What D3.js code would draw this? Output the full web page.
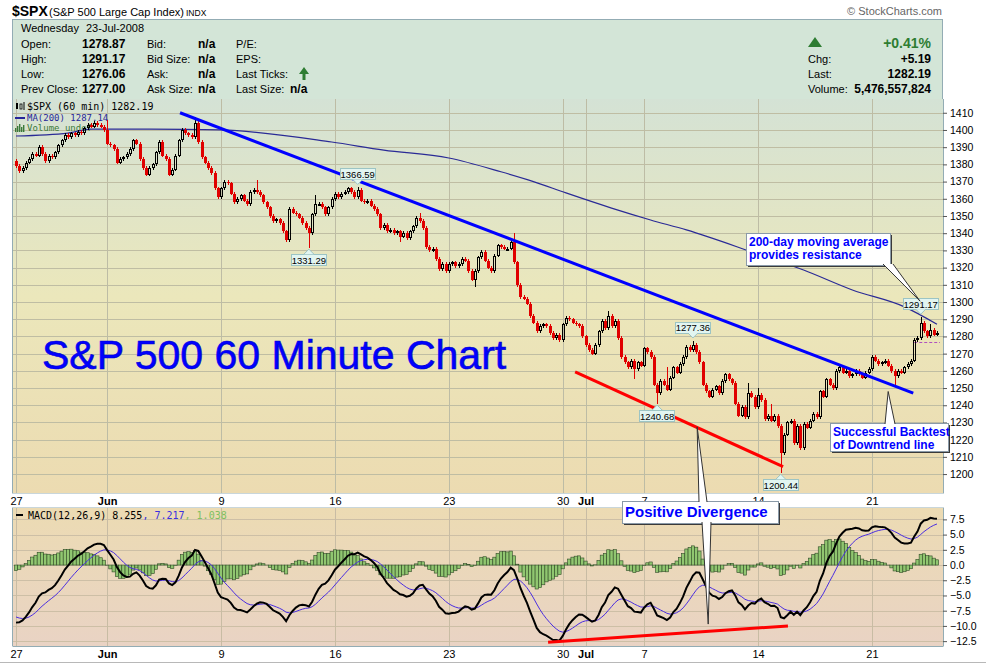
<!DOCTYPE html>
<html>
<head>
<meta charset="utf-8">
<script src="https://cdn.jsdelivr.net/npm/d3@7"></script>
<style>
  body { margin: 0; background: #fff; }
</style>
</head>
<body>
<script>
// ---- data ----
const tickText = ['27', 'Jun', '9', '16', '23', '30', 'Jul', '7', '14', '21'];
const tickDay = [0, 4, 9, 14, 19, 24, 25, 28, 33, 38];
// May 27 .. Jul 23 2008, hourly bars per session (Jul 3 was a half day)
const barsPerDay = [7, 7, 7, 7, 7, 7, 7, 7, 7, 7, 7, 7, 7, 7, 7, 7, 7, 7, 7, 7, 7, 7, 7, 7,
  7, 7, 7, 4, 7, 7, 7, 7, 7, 7, 7, 7, 7, 7, 7, 7, 7];
const firstOpen = 1382;
const closes = [
  1379, 1376, 1378, 1381, 1383, 1386, 1385,
  1390, 1386, 1382, 1385, 1384, 1387, 1391,
  1394, 1397, 1396, 1398, 1397, 1399, 1398,
  1401, 1403, 1402, 1404, 1403, 1402, 1400,
  1392, 1391, 1389, 1381, 1383, 1384, 1386,
  1389, 1394, 1392, 1383, 1378, 1374, 1378,
  1380, 1387, 1393, 1385, 1383, 1374, 1377,
  1385, 1394, 1400, 1398, 1397, 1396, 1404,
  1393, 1384, 1381, 1378, 1375, 1366, 1361,
  1366, 1370, 1369, 1363, 1358, 1360, 1362,
  1359, 1357, 1364, 1365, 1364, 1362, 1358,
  1355, 1350, 1347, 1348, 1346, 1341, 1336,
  1354, 1352, 1351, 1349, 1346, 1343, 1340,
  1351, 1357, 1357, 1355, 1351, 1355, 1360,
  1363, 1361, 1363, 1364, 1366, 1364, 1361,
  1365, 1359, 1358, 1359, 1356, 1354, 1351,
  1343, 1345, 1341, 1342, 1340, 1341, 1338,
  1340, 1337, 1341, 1344, 1349, 1347, 1343,
  1332, 1330, 1331, 1325, 1319, 1322, 1318,
  1322, 1323, 1321, 1322, 1325, 1324, 1318,
  1313, 1318, 1326, 1329, 1324, 1320, 1318,
  1327, 1333, 1332, 1331, 1331, 1335, 1323,
  1310, 1303, 1302, 1299, 1292, 1288, 1283,
  1286, 1287, 1286, 1282, 1279, 1281, 1278,
  1287, 1291, 1290, 1288, 1287, 1286, 1280,
  1275, 1272, 1270, 1275, 1283, 1289, 1285,
  1292, 1286, 1289, 1279, 1268, 1265, 1262,
  1266, 1261, 1265, 1263,
  1273, 1271, 1268, 1252, 1247, 1254, 1252,
  1249, 1256, 1262, 1259, 1264, 1268, 1274,
  1272, 1275, 1271, 1265, 1252, 1248, 1245,
  1249, 1251, 1247, 1254, 1258, 1255, 1253,
  1241, 1234, 1239, 1233, 1247, 1245, 1239,
  1246, 1243, 1232, 1234, 1231, 1234, 1228,
  1212, 1223, 1230, 1231, 1218, 1228, 1215,
  1229, 1227, 1231, 1235, 1233, 1248, 1245,
  1255, 1252, 1250, 1260, 1262, 1259, 1260,
  1257, 1258, 1260, 1258, 1256, 1259, 1261,
  1268, 1266, 1264, 1265, 1266, 1263, 1260,
  1257, 1260, 1259, 1262, 1264, 1266, 1278,
  1279, 1288, 1283, 1280, 1284, 1281, 1282.19
];
// bars with a visibly long wick: [bar, high] / [bar, low]
const highMarks = [[28, 1406], [55, 1407.5], [74, 1371], [92, 1362], [105, 1366.59], [124, 1352],
  [153, 1340], [182, 1295], [200, 1262], [208, 1277.36], [225, 1253], [228, 1250], [232, 1241],
  [278, 1291.17], [281, 1287]];
const lowMarks = [[90, 1331.29], [118, 1335], [141, 1309], [190, 1255], [197, 1240.68],
  [235, 1200.44], [270, 1252]];
const maBar = [0, 16, 23, 41, 63, 97, 113, 133, 149, 159, 169, 183, 195, 206, 227, 242, 257, 273, 283];
const maValue = [1396.5, 1398.2, 1400.5, 1400.5, 1400, 1393, 1388.3, 1383.7, 1375.7, 1370, 1363.4,
  1354.6, 1347.7, 1341.9, 1328.5, 1318.6, 1307, 1297.2, 1287.1];
const macdSeed = [1385, 1394.7, -8.3]; // EMA12, EMA26, signal before the first bar
const priceTicks = d3.range(1200, 1411, 10);
const macdTicks = [-12.5, -10, -7.5, -5, -2.5, 0, 2.5, 5, 7.5];
const peakLabels = [[90, 1331.29, 'low'], [105, 1366.59, 'high'], [197, 1240.68, 'low'],
  [208, 1277.36, 'high'], [235, 1200.44, 'low'], [278, 1291.17, 'high']];
const trendBlue = [[50.4, 1410], [275.7, 1247]];
const trendRed = [[171.8, 1259.4], [235.7, 1204.3]];
const macdRed = [[163.5, -12.7], [237.2, -10]];

const W = 986, H = 664;
const L = 13, R = 943, PT = 99, PB = 493, MT = 508, MB = 646;
const SANS = '"Liberation Sans", Arial, sans-serif';
const MONO = '"DejaVu Sans Mono", monospace';

const svg = d3.select('body').append('svg').attr('width', W).attr('height', H)
  .attr('font-family', SANS);
const defs = svg.append('defs');

function grad(id, stops) {
  const g = defs.append('linearGradient').attr('id', id)
    .attr('x1', 0).attr('x2', 0).attr('y1', 0).attr('y2', 1);
  stops.forEach(([o, c]) => g.append('stop').attr('offset', o).attr('stop-color', c));
}
grad('pbg', [[0, '#d4e2d5'], [0.5, '#ebe7bb'], [1, '#ecdbb1']]);
grad('mbg', [[0, '#ecdbb3'], [1, '#e9d3c4']]);
defs.append('clipPath').attr('id', 'clipP').append('rect')
  .attr('x', L).attr('y', PT).attr('width', R - L).attr('height', PB - PT);
defs.append('clipPath').attr('id', 'clipM').append('rect')
  .attr('x', L).attr('y', MT).attr('width', R - L).attr('height', MB - MT);

// ---- derived series ----
const dayStart = [];
barsPerDay.reduce((s, n) => { dayStart.push(s); return s + n; }, 0);

const bars = closes.map((c, i) => {
  const o = i ? closes[i - 1] : firstOpen;
  return { i, o, c, h: Math.max(o, c) + 1, l: Math.min(o, c) - 1 };
});
highMarks.forEach(([i, v]) => { bars[i].h = v; });
lowMarks.forEach(([i, v]) => { bars[i].l = v; });

let e12 = macdSeed[0], e26 = macdSeed[1], sig = macdSeed[2];
const macd = closes.map((c, i) => {
  e12 += (2 / 13) * (c - e12);
  e26 += (2 / 27) * (c - e26);
  const m = e12 - e26;
  sig += 0.2 * (m - sig);
  return { i, m, s: sig, h: m - sig };
});

const x = d3.scaleLinear().domain([0, closes.length - 1]).range([16, 937]);
const y = d3.scaleLinear().domain([1189, 1418]).range([PB, PT]);
const ym = d3.scaleLinear().domain([-13.3, 9.37]).range([MB, MT]);
const px = v => Math.round(v) + 0.5;

// ---- header ----
svg.append('text').attr('x', 12).attr('y', 16).attr('font-size', 14).attr('font-weight', 'bold').text('$SPX');
svg.append('text').attr('x', 49).attr('y', 16).attr('font-size', 11).text('(S&P 500 Large Cap Index)');
svg.append('text').attr('x', 186).attr('y', 16).attr('font-size', 8.5).text('INDX');
svg.append('text').attr('x', 942).attr('y', 15).attr('text-anchor', 'end').attr('font-size', 11)
  .attr('fill', '#666').text('© StockCharts.com');

svg.append('rect').attr('x', 12.5).attr('y', 19.5).attr('width', 930).attr('height', 80)
  .attr('fill', '#d3e5d7').attr('stroke', '#93acb4');

const hdr = svg.append('g').attr('font-size', 11);
hdr.append('text').attr('x', 21).attr('y', 32).text('Wednesday');
hdr.append('text').attr('x', 86).attr('y', 32).text('23-Jul-2008');
const quoteRows = [
  ['Open:', '1278.87', 'Bid:', 'n/a', 'P/E:'],
  ['High:', '1291.17', 'Bid Size:', 'n/a', 'EPS:'],
  ['Low:', '1276.06', 'Ask:', 'n/a', 'Last Ticks:'],
  ['Prev Close:', '1277.00', 'Ask Size:', 'n/a', 'Last Size:']
];
const colX = [21, 82, 147, 198, 236];
quoteRows.forEach((row, r) => {
  row.forEach((t, k) => {
    hdr.append('text').attr('x', colX[k]).attr('y', 48 + r * 15)
      .attr('font-weight', k % 2 ? 'bold' : null).attr('font-size', k % 2 ? 12 : null).text(t);
  });
});
hdr.append('text').attr('x', 290).attr('y', 93).attr('font-weight', 'bold').attr('font-size', 12).text('n/a');
hdr.append('path').attr('d', 'M299,74 L304,67 L309,74 L305.5,74 L305.5,80 L302.5,80 L302.5,74 Z')
  .attr('fill', '#2e7d32');

hdr.append('path').attr('d', 'M808,47 L815,37 L822,47 Z').attr('fill', '#2e7d32');
hdr.append('text').attr('x', 931).attr('y', 48).attr('text-anchor', 'end').attr('font-size', 14)
  .attr('font-weight', 'bold').attr('fill', '#2e7d32').text('+0.41%');
const quoteRight = [['Chg:', '+5.19'], ['Last:', '1282.19'], ['Volume:', '5,476,557,824']];
quoteRight.forEach(([a, b], r) => {
  hdr.append('text').attr('x', 808).attr('y', 63 + r * 15).text(a);
  hdr.append('text').attr('x', 931).attr('y', 63 + r * 15).attr('text-anchor', 'end')
    .attr('font-weight', 'bold').attr('font-size', 12).text(b);
});

// ---- price panel ----
svg.append('rect').attr('x', L).attr('y', PT).attr('width', R - L).attr('height', PB - PT).attr('fill', 'url(#pbg)');
svg.append('rect').attr('x', L).attr('y', MT).attr('width', R - L).attr('height', MB - MT).attr('fill', 'url(#mbg)');

const gridX = tickDay.map(d => px(x(dayStart[d])));
svg.append('g').selectAll('line').data(priceTicks).join('line')
  .attr('x1', L).attr('x2', R).attr('y1', d => px(y(d))).attr('y2', d => px(y(d)))
  .attr('stroke', '#bfbda3').attr('stroke-width', 1);
svg.append('g').selectAll('line').data(macdTicks).join('line')
  .attr('x1', L).attr('x2', R).attr('y1', d => px(ym(d))).attr('y2', d => px(ym(d)))
  .attr('stroke', '#cdbfa6').attr('stroke-width', 1);
svg.append('g').selectAll('line').data(gridX).join('line')
  .attr('x1', d => d).attr('x2', d => d).attr('y1', PT).attr('y2', PB)
  .attr('stroke', '#bdbca5');
svg.append('g').selectAll('line').data(gridX).join('line')
  .attr('x1', d => d).attr('x2', d => d).attr('y1', MT).attr('y2', MB)
  .attr('stroke', '#c8bca4');

// legends
const lg = svg.append('g');
lg.append('rect').attr('x', 16).attr('y', 103).attr('width', 2).attr('height', 6).attr('fill', '#000');
lg.append('rect').attr('x', 20).attr('y', 104).attr('width', 2).attr('height', 5).attr('fill', 'none').attr('stroke', '#000').attr('stroke-width', 0.8);
lg.append('line').attr('x1', 24).attr('x2', 24).attr('y1', 102).attr('y2', 110).attr('stroke', '#000');
lg.append('text').attr('x', 27).attr('y', 110).attr('font-family', MONO).attr('font-size', 10).text('$SPX (60 min) 1282.19');
lg.append('line').attr('x1', 15).attr('x2', 25).attr('y1', 118).attr('y2', 118).attr('stroke', '#262699').attr('stroke-width', 2);
lg.append('text').attr('x', 27).attr('y', 121).attr('font-family', MONO).attr('font-size', 9).attr('fill', '#262699').text('MA(200) 1287.14');
[4, 6, 8, 5, 7].forEach((h, k) => {
  lg.append('rect').attr('x', 15 + k * 2).attr('y', 132 - h).attr('width', 1.4).attr('height', h).attr('fill', '#3a7a3a');
});
lg.append('text').attr('x', 27).attr('y', 131).attr('font-family', MONO).attr('font-size', 9).attr('fill', '#3a7a3a').text('Volume undef');

// moving average
const maPts = maBar.map((b, k) => [b, maValue[k]]);
svg.append('path').attr('clip-path', 'url(#clipP)')
  .attr('d', d3.line().x(d => x(d[0])).y(d => y(d[1])).curve(d3.curveMonotoneX)(maPts))
  .attr('fill', 'none').attr('stroke', '#2a2a96').attr('stroke-width', 1.2);

// prev close dashed line
svg.append('line').attr('x1', x(276)).attr('x2', x(283) + 3).attr('y1', px(y(1277))).attr('y2', px(y(1277)))
  .attr('stroke', '#b050c0').attr('stroke-dasharray', '3,2');

// candles
const cg = svg.append('g').attr('clip-path', 'url(#clipP)').attr('shape-rendering', 'crispEdges');
const candle = cg.selectAll('g').data(bars).join('g');
candle.each(function (b) {
  const g = d3.select(this);
  const up = b.c >= b.o;
  const col = up ? '#000' : '#e00000';
  const cx = px(x(b.i));
  const top = Math.round(y(Math.max(b.o, b.c)));
  const bot = Math.max(Math.round(y(Math.min(b.o, b.c))), top + 1);
  g.append('line').attr('x1', cx).attr('x2', cx).attr('y1', y(b.h)).attr('y2', top).attr('stroke', col);
  g.append('line').attr('x1', cx).attr('x2', cx).attr('y1', bot).attr('y2', y(b.l)).attr('stroke', col);
  if (up) {
    g.append('rect').attr('x', cx - 1).attr('y', top + 0.5).attr('width', 2).attr('height', Math.max(bot - top - 1, 0.5))
      .attr('fill', 'none').attr('stroke', '#000');
  } else {
    g.append('rect').attr('x', cx - 1.5).attr('y', top).attr('width', 3).attr('height', Math.max(bot - top, 1))
      .attr('fill', '#e00000');
  }
});

// trend lines
const seg = (s, pts, yy) => svg.append('line').attr('x1', x(pts[0][0])).attr('y1', yy(pts[0][1]))
  .attr('x2', x(pts[1][0])).attr('y2', yy(pts[1][1])).attr('stroke', s).attr('stroke-width', 3);
seg('#0000ff', trendBlue, y);
seg('#ff0000', trendRed, y);

// ---- MACD panel ----
const mg = svg.append('g').attr('clip-path', 'url(#clipM)');
mg.selectAll('rect').data(macd).join('rect')
  .attr('x', d => x(d.i) - 1.6).attr('width', 3.25)
  .attr('y', d => ym(Math.max(d.h, 0))).attr('height', d => Math.abs(ym(d.h) - ym(0)))
  .attr('fill', '#90c670').attr('stroke', '#2f4a26').attr('stroke-width', 0.6);
mg.append('path').attr('d', d3.line().x(d => x(d.i)).y(d => ym(d.s))(macd))
  .attr('fill', 'none').attr('stroke', '#4a2de0').attr('stroke-width', 1);
mg.append('path').attr('d', d3.line().x(d => x(d.i)).y(d => ym(d.m))(macd))
  .attr('fill', 'none').attr('stroke', '#000').attr('stroke-width', 2);
seg('#ff0000', macdRed, ym);

const ml = svg.append('g').attr('font-family', MONO).attr('font-size', 10);
ml.append('rect').attr('x', 16).attr('y', 514).attr('width', 7).attr('height', 2).attr('fill', '#000');
const mt = ml.append('text').attr('x', 28).attr('y', 519);
mt.append('tspan').text('MACD(12,26,9) 8.255');
mt.append('tspan').attr('fill', '#3a2fe0').text(', 7.217');
mt.append('tspan').attr('fill', '#7fc060').text(', 1.038');

// ---- frames and axes ----
const fr = svg.append('g').attr('fill', 'none').attr('stroke', '#93acb4');
fr.append('line').attr('x1', 12.5).attr('x2', 12.5).attr('y1', PT).attr('y2', PB);
fr.append('line').attr('x1', R + 0.5).attr('x2', R + 0.5).attr('y1', PT).attr('y2', PB);
fr.append('line').attr('x1', 12.5).attr('x2', R + 0.5).attr('y1', PB + 0.5).attr('y2', PB + 0.5).attr('stroke-dasharray', '1,1');
fr.append('line').attr('x1', 12.5).attr('x2', 12.5).attr('y1', MT).attr('y2', MB);
fr.append('line').attr('x1', R + 0.5).attr('x2', R + 0.5).attr('y1', MT).attr('y2', MB);
fr.append('line').attr('x1', 12.5).attr('x2', R + 0.5).attr('y1', MT - 0.5).attr('y2', MT - 0.5).attr('stroke-dasharray', '1,1');
fr.append('line').attr('x1', 12.5).attr('x2', R + 0.5).attr('y1', MB + 0.5).attr('y2', MB + 0.5);
svg.append('line').attr('x1', 0).attr('x2', W).attr('y1', 662.5).attr('y2', 662.5).attr('stroke', '#b8b8b8');

const styleAxis = g => {
  g.select('.domain').remove();
  g.attr('font-family', SANS).attr('font-size', 10.5);
  g.selectAll('line').attr('stroke', '#555');
};
svg.append('g').attr('transform', `translate(${R},0)`)
  .call(d3.axisRight(y).tickValues(priceTicks).tickSize(4).tickFormat(d3.format('d'))).call(styleAxis);
svg.append('g').attr('transform', `translate(${R},0)`)
  .call(d3.axisRight(ym).tickValues(macdTicks).tickSize(4).tickFormat(d3.format('.1f'))).call(styleAxis);

const dateAxis = d3.axisBottom(x).tickValues(tickDay.map(d => dayStart[d]))
  .tickFormat((d, k) => tickText[k]).tickSize(0);
[PB + 1, MB + 1].forEach(yy => {
  svg.append('g').attr('transform', `translate(0,${yy})`).call(dateAxis).call(styleAxis)
    .attr('font-size', 11)
    .selectAll('text').attr('font-weight', (d, k) => /[A-Z]/.test(tickText[k]) ? 'bold' : null);
});

// ---- peak labels ----
const pl = svg.append('g');
peakLabels.forEach(([i, v, kind]) => {
  const cx = x(i), vy = y(v);
  const tip = kind === 'high' ? vy - 3 : vy + 1;
  const by = kind === 'high' ? tip - 16 : tip + 5;
  const base = kind === 'high' ? tip - 5 : tip + 5;
  pl.append('rect').attr('x', px(cx - 18)).attr('y', px(by)).attr('width', 35).attr('height', 11)
    .attr('fill', '#e2f5f1').attr('stroke', '#9cc4c4');
  pl.append('path').attr('d', `M${cx - 5},${base} L${cx},${tip} L${cx + 5},${base}`)
    .attr('fill', '#e2f5f1').attr('stroke', '#9cc4c4');
  pl.append('text').attr('x', cx).attr('y', by + 9.5).attr('text-anchor', 'middle').attr('font-size', 9.5)
    .text(v.toFixed(2));
});

// ---- title and callouts ----
svg.append('text').attr('x', 42).attr('y', 369).attr('font-size', 41).attr('fill', '#0000ff')
  .attr('stroke', '#0000cc').attr('stroke-width', 0.6).text('S&P 500 60 Minute Chart');

const notes = [
  { box: [746, 233, 144, 32], size: 12, lines: ['200-day moving average', 'provides resistance'],
    ptr: [[[883, 264], [893, 264]], [277.8, 1300.5, 'p']] },
  { box: [830, 423, 118, 28], size: 12, lines: ['Successful Backtest', 'of Downtrend line'],
    ptr: [[[885, 424], [895, 424]], [268, 1248, 'p']] },
  { box: [622, 501, 156, 22], size: 15, lines: ['Positive Divergence'],
    ptr: [[[699, 502], [707, 502]], [209.3, 1227.4, 'p']] }
];
const extraPtr = [[[[702, 522], [711, 522]], [212.7, -9.7, 'm']]];

const cl = svg.append('g');
const drawPtr = ([basePts, [bi, bv, panel]]) => {
  const tx = x(bi), ty = panel === 'p' ? y(bv) : ym(bv);
  cl.append('path').attr('d', `M${basePts[0][0]},${basePts[0][1]} L${tx},${ty} L${basePts[1][0]},${basePts[1][1]}`)
    .attr('fill', '#fff').attr('stroke', '#333').attr('stroke-width', 1);
};
notes.forEach(n => {
  const [bx, by, bw, bh] = n.box;
  cl.append('rect').attr('x', bx + 2).attr('y', by + 2).attr('width', bw).attr('height', bh).attr('fill', '#3a3a3a');
  cl.append('rect').attr('x', bx + 0.5).attr('y', by + 0.5).attr('width', bw).attr('height', bh)
    .attr('fill', '#fff').attr('stroke', '#8a9aa8');
  n.lines.forEach((t, k) => {
    cl.append('text').attr('x', bx + 3).attr('y', by + n.size + 0.5 + k * 13).attr('font-size', n.size)
      .attr('font-weight', 'bold').attr('fill', '#0000ff').text(t);
  });
});
notes.forEach(n => drawPtr(n.ptr));
extraPtr.forEach(drawPtr);
</script>
</body>
</html>
